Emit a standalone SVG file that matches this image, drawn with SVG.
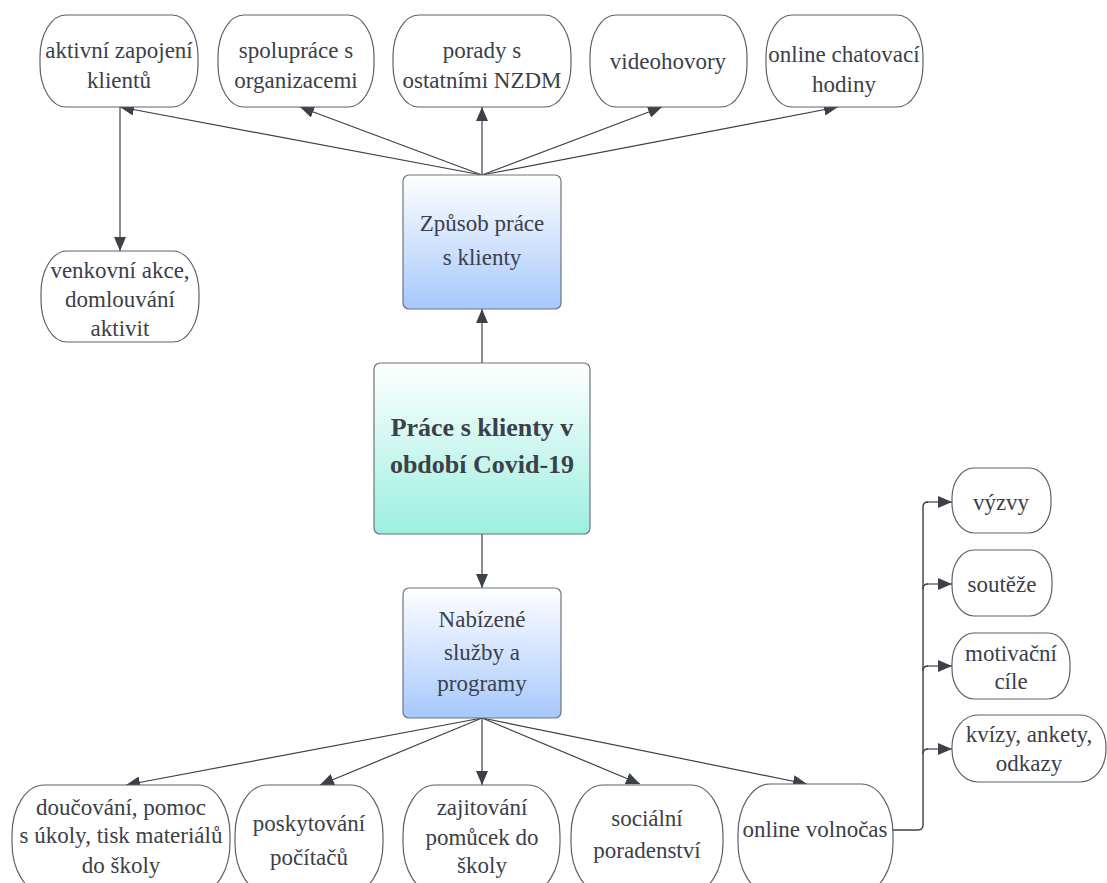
<svg xmlns="http://www.w3.org/2000/svg" width="1107" height="883" viewBox="0 0 1107 883">
  <defs>
    <linearGradient id="gBlue" x1="0" y1="0" x2="0" y2="1">
      <stop offset="0" stop-color="#ffffff"/>
      <stop offset="1" stop-color="#a6c8fd"/>
    </linearGradient>
    <linearGradient id="gTeal" x1="0" y1="0" x2="0" y2="1">
      <stop offset="0" stop-color="#ffffff"/>
      <stop offset="1" stop-color="#9cefdf"/>
    </linearGradient>
    <marker id="arrow" viewBox="0 0 14 12" refX="14" refY="6" markerWidth="14" markerHeight="12" markerUnits="userSpaceOnUse" orient="auto">
      <path d="M0,0 L14,6 L0,12 Z" fill="#3b4049"/>
    </marker>
    <style>
      .pill { fill: #ffffff; stroke: #5c6169; stroke-width: 1.2; }
      .box { stroke: #6f747b; stroke-width: 1.2; }
      text { font-family: 'Liberation Serif', 'Tinos', 'Noto Serif', 'DejaVu Serif', 'FreeSerif', serif; }
      .t { font-size: 23px; fill: #3b4049; text-anchor: middle; }
      .tb { font-size: 26px; font-weight: bold; fill: #3b4049; text-anchor: middle; }
      .edge { fill: none; stroke: #3b4049; stroke-width: 1.2; marker-end: url(#arrow); }
      .bus { fill: none; stroke: #3b4049; stroke-width: 1.4; }
    </style>
  </defs>

  <rect width="1107" height="883" fill="#ffffff"/>

  <!-- connectors -->
  <g id="connectors">
    <path class="edge" d="M482,175 L120,107"/>
    <path class="edge" d="M482,175 L300,107"/>
    <path class="edge" d="M482,175 L482,107"/>
    <path class="edge" d="M482,175 L662,107"/>
    <path class="edge" d="M482,175 L838,107"/>
    <path class="edge" d="M120,107 L120,251"/>
    <path class="edge" d="M482,363 L482,309"/>
    <path class="edge" d="M482,534 L482,588"/>
    <path class="edge" d="M482,718 L126,785"/>
    <path class="edge" d="M482,718 L320,785"/>
    <path class="edge" d="M482,718 L482,785"/>
    <path class="edge" d="M482,718 L640,784"/>
    <path class="edge" d="M482,718 L807,784"/>
    <path class="bus" d="M893,830 H918 Q923,830 923,825 V507 Q923,502 928,502"/>
    <path class="edge" d="M927,502 H952"/>
    <path class="bus" d="M923,589 Q923,584 928,584"/>
    <path class="edge" d="M927,584 H952"/>
    <path class="bus" d="M923,671 Q923,666 928,666"/>
    <path class="edge" d="M927,666 H952"/>
    <path class="bus" d="M923,754 Q923,749 928,749"/>
    <path class="edge" d="M927,749 H952"/>
  </g>

  <!-- top row -->
  <g id="aktivni">
    <rect class="pill" x="40" y="15" width="158" height="92" rx="26" ry="42"/>
    <text class="t" x="119" y="58" font-family="Liberation Serif">aktivní zapojení</text>
    <text class="t" x="119" y="88" font-family="Liberation Serif">klientů</text>
  </g>
  <g id="spoluprace">
    <rect class="pill" x="218" y="15" width="156" height="92" rx="26" ry="42"/>
    <text class="t" x="296" y="58">spolupráce s</text>
    <text class="t" x="296" y="88">organizacemi</text>
  </g>
  <g id="porady">
    <rect class="pill" x="393" y="15" width="178" height="92" rx="26" ry="42"/>
    <text class="t" x="482" y="58">porady s</text>
    <text class="t" x="482" y="88">ostatními NZDM</text>
  </g>
  <g id="videohovory">
    <rect class="pill" x="590" y="15" width="157" height="92" rx="26" ry="42"/>
    <text class="t" x="668" y="69">videohovory</text>
  </g>
  <g id="chat">
    <rect class="pill" x="766" y="15" width="157" height="92" rx="26" ry="42"/>
    <text class="t" x="844" y="62">online chatovací</text>
    <text class="t" x="844" y="92">hodiny</text>
  </g>

  <g id="venkovni">
    <rect class="pill" x="41" y="251" width="158" height="91" rx="26" ry="42"/>
    <text class="t" x="120" y="278">venkovní akce,</text>
    <text class="t" x="120" y="307">domlouvání</text>
    <text class="t" x="120" y="336">aktivit</text>
  </g>

  <!-- central column -->
  <g id="zpusob">
    <rect class="box" x="403" y="175" width="158" height="134" rx="6" fill="url(#gBlue)"/>
    <text class="t" x="482" y="231">Způsob práce</text>
    <text class="t" x="482" y="265">s klienty</text>
  </g>
  <g id="hlavni">
    <rect class="box" x="374" y="363" width="216" height="171" rx="6" fill="url(#gTeal)"/>
    <text class="tb" x="482" y="436">Práce s klienty v</text>
    <text class="tb" x="482" y="473">období Covid-19</text>
  </g>
  <g id="nabizene">
    <rect class="box" x="403" y="588" width="158" height="130" rx="6" fill="url(#gBlue)"/>
    <text class="t" x="482" y="627">Nabízené</text>
    <text class="t" x="482" y="660">služby a</text>
    <text class="t" x="482" y="691">programy</text>
  </g>

  <!-- bottom row -->
  <g id="doucovani">
    <rect class="pill" x="12" y="785" width="218" height="108" rx="32" ry="50"/>
    <text class="t" x="121" y="815">doučování, pomoc</text>
    <text class="t" x="121" y="843">s úkoly, tisk materiálů</text>
    <text class="t" x="121" y="873">do školy</text>
  </g>
  <g id="pocitace">
    <rect class="pill" x="235" y="785" width="148" height="108" rx="32" ry="50"/>
    <text class="t" x="309" y="831">poskytování</text>
    <text class="t" x="309" y="865">počítačů</text>
  </g>
  <g id="pomucky">
    <rect class="pill" x="403" y="785" width="157" height="108" rx="32" ry="50"/>
    <text class="t" x="482" y="815">zajitování</text>
    <text class="t" x="482" y="845">pomůcek do</text>
    <text class="t" x="482" y="873">školy</text>
  </g>
  <g id="poradenstvi">
    <rect class="pill" x="571" y="785" width="152" height="108" rx="32" ry="50"/>
    <text class="t" x="647" y="826">sociální</text>
    <text class="t" x="647" y="858">poradenství</text>
  </g>
  <g id="volnocas">
    <rect class="pill" x="738" y="784" width="155" height="109" rx="32" ry="50"/>
    <text class="t" x="815" y="837">online volnočas</text>
  </g>

  <!-- leisure activities -->
  <g id="vyzvy">
    <rect class="pill" x="952" y="468" width="99" height="65" rx="22" ry="30"/>
    <text class="t" x="1001" y="510">výzvy</text>
  </g>
  <g id="souteze">
    <rect class="pill" x="952" y="550" width="100" height="66" rx="22" ry="30"/>
    <text class="t" x="1002" y="592">soutěže</text>
  </g>
  <g id="motivacni">
    <rect class="pill" x="952" y="633" width="118" height="66" rx="22" ry="30"/>
    <text class="t" x="1011" y="661">motivační</text>
    <text class="t" x="1011" y="689">cíle</text>
  </g>
  <g id="kvizy">
    <rect class="pill" x="952" y="715" width="154" height="67" rx="26" ry="32"/>
    <text class="t" x="1029" y="742">kvízy, ankety,</text>
    <text class="t" x="1029" y="771">odkazy</text>
  </g>
</svg>
